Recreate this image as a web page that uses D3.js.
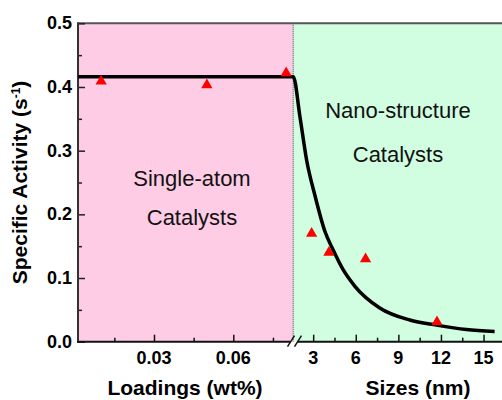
<!DOCTYPE html>
<html>
<head>
<meta charset="utf-8">
<script src="https://cdn.jsdelivr.net/npm/d3@7"></script>
<style>
  body { margin: 0; background: #fff; }
  svg { display: block; font-family: "Liberation Sans", Arial, sans-serif; }
</style>
</head>
<body>
<div id="chart"></div>
<script>
// data
var loadTicks = [0.03, 0.06];
var loadMinor = [0.015, 0.045, 0.075];
var sizeTicks = [3, 6, 9, 12, 15];
var sizeMinor = [4.5, 7.5, 10.5, 13.5];
var yTicks = [0.0, 0.1, 0.2, 0.3, 0.4, 0.5];
var yMinor = [0.05, 0.15, 0.25, 0.35, 0.45];

// single-atom points (loading wt%, activity)
var loadX = [0.01, 0.05, 0.08];
var loadY = [0.409, 0.403, 0.422];
// nano-structure points (size nm, activity)
var sizeX = [2.89, 4.11, 6.69, 11.72];
var sizeY = [0.170, 0.140, 0.130, 0.031];

// guide line
var lineLoadX = [0.0013, 0.0827];
var lineLoadY = [0.416, 0.416];
var lineSizeX = [1.6, 2.07, 2.54, 3.12, 3.83, 4.41, 5.11, 5.94, 7.69, 9.80, 11.68, 13.79, 15.78];
var lineSizeY = [0.416, 0.353, 0.285, 0.230, 0.173, 0.144, 0.113, 0.087, 0.053, 0.034, 0.026, 0.019, 0.016];

var W = 502, H = 400;
var pLeft = 78, pTop = 23.3, pBottom = 341.7, split = 293.3, pRight = 502;

var svg = d3.select("#chart").append("svg")
  .attr("width", W).attr("height", H);

var y = d3.scaleLinear().domain([0, 0.5]).range([pBottom, pTop]);
var xL = d3.scaleLinear().domain([0, 0.0827]).range([74.7, split]);
var xR = d3.scaleLinear().domain([1.6, 16.3]).range([split, pRight]);

// backgrounds
svg.append("rect").attr("x", pLeft).attr("y", pTop)
  .attr("width", split - pLeft).attr("height", pBottom - pTop)
  .style("fill", "#ffcce6");
svg.append("rect").attr("x", split).attr("y", pTop)
  .attr("width", pRight - split).attr("height", pBottom - pTop)
  .style("fill", "#d1fde0");

// divider
svg.append("line")
  .attr("x1", split).attr("x2", split).attr("y1", pTop).attr("y2", pBottom)
  .style("stroke", "#777").style("stroke-width", 1.5).style("stroke-dasharray", "1,1");

// top border
svg.append("line")
  .attr("x1", pLeft).attr("x2", pRight).attr("y1", pTop).attr("y2", pTop)
  .style("stroke", "#555").style("stroke-width", 2);

// y axis
var yAxis = svg.append("g").attr("transform", "translate(" + pLeft + ",0)")
  .call(d3.axisRight(y).tickValues(yTicks).tickSize(7).tickFormat(""));
yAxis.select(".domain").remove();
svg.append("g").attr("transform", "translate(" + pLeft + ",0)")
  .call(d3.axisRight(y).tickValues(yMinor).tickSize(4).tickFormat(""))
  .select(".domain").remove();
svg.selectAll(".tick line").style("stroke", "#222").style("stroke-width", 1.5);

svg.append("g").selectAll("text").data(yTicks).enter().append("text")
  .attr("x", pLeft - 6).attr("y", function (d) { return y(d) + 6; })
  .attr("text-anchor", "end")
  .style("font-size", "18px").style("font-weight", "bold")
  .text(function (d) { return d.toFixed(1); });

svg.append("line")
  .attr("x1", pLeft).attr("x2", pLeft).attr("y1", pTop - 1).attr("y2", pBottom + 1)
  .style("stroke", "#333").style("stroke-width", 2);

// x axes (ticks inward)
function xTicks(scale, vals, len) {
  var g = svg.append("g").attr("transform", "translate(0," + pBottom + ")")
    .call(d3.axisTop(scale).tickValues(vals).tickSize(len).tickFormat(""));
  g.select(".domain").remove();
  g.selectAll(".tick line").style("stroke", "#111").style("stroke-width", 1.5);
}
xTicks(xL, loadTicks, 7);
xTicks(xL, loadMinor, 4);
xTicks(xR, sizeTicks, 7);
xTicks(xR, sizeMinor, 4);

svg.append("g").selectAll("text").data(loadTicks).enter().append("text")
  .attr("x", function (d) { return xL(d); }).attr("y", 364)
  .attr("text-anchor", "middle")
  .style("font-size", "18px").style("font-weight", "bold")
  .text(function (d) { return d.toFixed(2); });
svg.append("g").selectAll("text").data(sizeTicks).enter().append("text")
  .attr("x", function (d) { return xR(d); }).attr("y", 364)
  .attr("text-anchor", "middle")
  .style("font-size", "18px").style("font-weight", "bold")
  .text(function (d) { return d; });

// bottom axis line with break
svg.append("line")
  .attr("x1", pLeft - 1).attr("x2", 290).attr("y1", pBottom).attr("y2", pBottom)
  .style("stroke", "#111").style("stroke-width", 2);
svg.append("line")
  .attr("x1", 298).attr("x2", pRight).attr("y1", pBottom).attr("y2", pBottom)
  .style("stroke", "#111").style("stroke-width", 2);
[287.5, 294.5].forEach(function (bx) {
  svg.append("line")
    .attr("x1", bx).attr("y1", pBottom + 5).attr("x2", bx + 7).attr("y2", pBottom - 6)
    .style("stroke", "#111").style("stroke-width", 1.5);
});

// guide line
var pts = [];
lineLoadX.forEach(function (d, i) { pts.push([xL(d), y(lineLoadY[i])]); });
lineSizeX.forEach(function (d, i) { pts.push([xR(d), y(lineSizeY[i])]); });
svg.append("path")
  .attr("d", d3.line().curve(d3.curveMonotoneX)(pts))
  .style("fill", "none").style("stroke", "#000").style("stroke-width", 3.5);

// triangles
var tri = d3.symbol().type(d3.symbolTriangle).size(55);
svg.append("g").selectAll("path").data(loadX).enter().append("path")
  .attr("d", tri)
  .attr("transform", function (d, i) { return "translate(" + xL(d) + "," + y(loadY[i]) + ")"; })
  .style("fill", "#ff0000");
svg.append("g").selectAll("path").data(sizeX).enter().append("path")
  .attr("d", tri)
  .attr("transform", function (d, i) { return "translate(" + xR(d) + "," + y(sizeY[i]) + ")"; })
  .style("fill", "#ff0000");

// region labels
function label(x, yy, t) {
  svg.append("text").attr("x", x).attr("y", yy)
    .attr("text-anchor", "middle").style("font-size", "22px").style("fill", "#111")
    .text(t);
}
label(192, 186, "Single-atom");
label(192, 225, "Catalysts");
label(398, 118, "Nano-structure");
label(398, 162, "Catalysts");

// axis titles
svg.append("text").attr("x", 185).attr("y", 395)
  .attr("text-anchor", "middle").style("font-size", "21px").style("font-weight", "bold")
  .text("Loadings (wt%)");
svg.append("text").attr("x", 418).attr("y", 395)
  .attr("text-anchor", "middle").style("font-size", "21px").style("font-weight", "bold")
  .text("Sizes (nm)");

var yt = svg.append("text")
  .attr("transform", "translate(27," + ((pTop + pBottom) / 2) + ") rotate(-90)")
  .attr("text-anchor", "middle").style("font-size", "21px").style("font-weight", "bold");
yt.append("tspan").text("Specific Activity (s");
yt.append("tspan").attr("dy", -7).style("font-size", "12px").text("-1");
yt.append("tspan").attr("dy", 7).text(")");
</script>
</body>
</html>
